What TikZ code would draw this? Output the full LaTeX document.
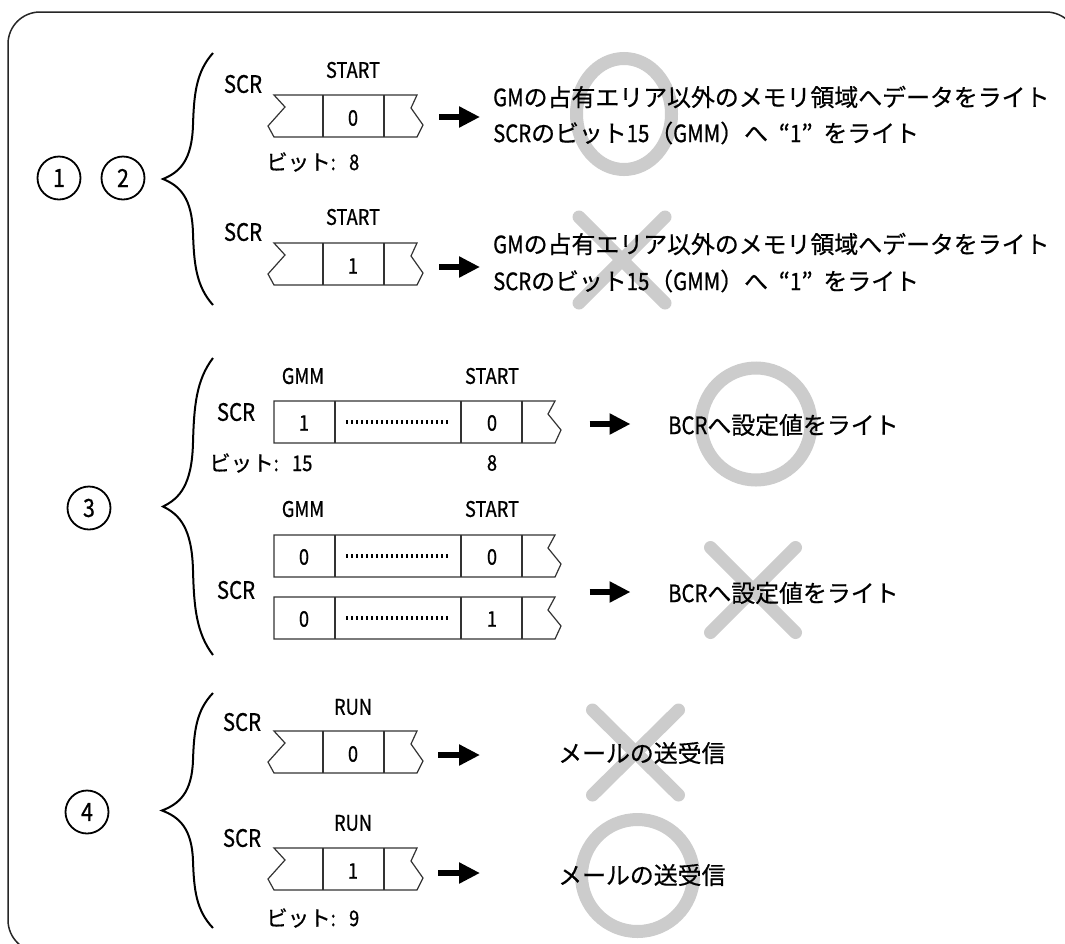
\documentclass[tikz,border=0pt]{standalone}
\usepackage{fontspec}
\setmainfont[FakeBold=0.6]{Noto Sans CJK JP}
\newfontfamily\latn[FakeStretch=0.85,FakeBold=0.8]{Noto Sans CJK JP}
\newcommand{\myL}[1]{{\latn #1}}
\newcommand{\bitsep}{\myL{:}\hspace{0.62em}}
\usetikzlibrary{arrows.meta}
\definecolor{markgray}{RGB}{204,204,204}
\tikzset{
  frame/.style={draw=black!85, line width=1.5pt, rounded corners=32pt},
  reg/.style={draw=black!80, line width=1.2pt},
  brc/.style={draw=black, line width=2pt},
  numcirc/.style={circle, draw=black, line width=1.8pt, minimum size=43pt, inner sep=0pt, font=\fontsize{25}{28}\selectfont\latn},
  txt/.style={anchor=west, inner sep=0pt, font=\fontsize{23.9}{28}\selectfont},
  scr/.style={inner sep=0pt, font=\fontsize{24}{28}\selectfont\latn},
  fld/.style={inner sep=0pt, font=\fontsize{21.5}{25}\selectfont\latn},
  bitlbl/.style={anchor=west, inner sep=0pt, font=\fontsize{21.5}{25}\selectfont},
  bigarrow/.style={line width=6pt, -{Triangle[length=21pt,width=20pt]}},
  okmark/.style={draw=markgray, line width=13pt},
  ngmark/.style={draw=markgray, line width=13pt, line cap=round},
  dots/.style={line width=4pt, dash pattern=on 2pt off 3pt}
}
\newcommand{\shortreg}[1]{%
  \draw[reg] (274,#1) -- (417,#1) -- (411,{#1+13}) -- (423,{#1+30}) -- (417,{#1+42})
    -- (274,{#1+42}) -- (268,{#1+31}) -- (285,{#1+12}) -- cycle;
  \draw[reg] (323,#1) -- (323,{#1+42});
  \draw[reg] (384,#1) -- (384,{#1+42});
}
\newcommand{\longreg}[1]{%
  \draw[reg] (274,#1) -- (555,#1) -- (548,{#1+13}) -- (561,{#1+29}) -- (555,{#1+42})
    -- (274,{#1+42}) -- cycle;
  \draw[reg] (335,#1) -- (335,{#1+42});
  \draw[reg] (461,#1) -- (461,{#1+42});
  \draw[reg] (522,#1) -- (522,{#1+42});
  \draw[dots] (346,{#1+21}) -- (450,{#1+21});
}
\newcommand{\mybrace}[3]{%
  \draw[brc] (213,{#2-#3}) .. controls (196,{#2-0.85*#3}) and (194,{#2-0.67*#3}) .. (193,{#2-0.43*#3})
    .. controls (192,{#2-0.15*#3}) and ({#1+17},{#2-0.055*#3}) .. (#1,#2)
    .. controls ({#1+17},{#2+0.055*#3}) and (192,{#2+0.15*#3}) .. (193,{#2+0.43*#3})
    .. controls (194,{#2+0.67*#3}) and (196,{#2+0.85*#3}) .. (213,{#2+#3});
}
\newcommand{\xmark}[4]{%
  \draw[ngmark] ({#1-#3},{#2-#4}) -- ({#1+#3},{#2+#4});
  \draw[ngmark] ({#1+#3},{#2-#4}) -- ({#1-#3},{#2+#4});
}
\newcommand{\scrline}{\myL{SCR}のビット\myL{15}（\myL{GMM}）へ\hspace{0.45em}“\myL{1}”\hspace{0.45em}をライト}
\begin{document}
\begin{tikzpicture}[x=1pt,y=-1pt]
\useasboundingbox (0,0) rectangle (1065,943);
\clip (0,0) rectangle (1065,943);
\fill[white] (0,0) rectangle (1065,943);
% frame
\draw[frame] (8,12) rectangle (1078,952);

% gray marks (behind text)
\draw[okmark] (624,114) ellipse [x radius=47.5, y radius=55.5];
\xmark{622}{260}{43}{43}
\draw[okmark] (756,424) ellipse [x radius=55, y radius=56];
\xmark{753}{590}{42.5}{42.5}
\xmark{635.5}{752.5}{43}{42.5}
\draw[okmark] (637.5,875.5) ellipse [x radius=56, y radius=56];

% circled numbers
\node[numcirc] (n1) at (59,178) {1};
\node[numcirc] (n2) at (123,178) {2};
\node[numcirc] (n3) at (89,508) {3};
\node[numcirc] (n4) at (87,812) {4};

% braces
\mybrace{163}{179}{126}
\mybrace{163}{506.5}{148.5}
\mybrace{162}{810.5}{117.5}

% ===== group 1/2 =====
\node[scr] (scr1) at (243,84) {SCR};
\node[fld] (st1) at (353,70) {START};
\shortreg{95}
\node[fld] (v1) at (353,118) {0};
\node[bitlbl] (b1) at (266,162) {ビット\bitsep\myL{8}};
\coordinate (a1s) at (439,117); \coordinate (a1e) at (480,117);
\draw[bigarrow] (a1s) -- (a1e);
\node[txt] (t1a) at (493,97) {\myL{GM}の占有エリア以外のメモリ領域へデータをライト};
\node[txt] (t1b) at (493,133) {\scrline};

\node[scr] (scr2) at (243,232) {SCR};
\node[fld] (st2) at (353,217) {START};
\shortreg{243}
\node[fld] (v2) at (353,266) {1};
\coordinate (a2s) at (439,267); \coordinate (a2e) at (480,267);
\draw[bigarrow] (a2s) -- (a2e);
\node[txt] (t2a) at (493,244) {\myL{GM}の占有エリア以外のメモリ領域へデータをライト};
\node[txt] (t2b) at (493,281) {\scrline};

% ===== group 3 =====
\node[scr] (scr3) at (236,412) {SCR};
\node[fld] (g3a) at (303,376) {GMM};
\node[fld] (s3a) at (492,376) {START};
\longreg{401}
\node[fld] (v3a1) at (304,423) {1};
\node[fld] (v3a2) at (492,423) {0};
\node[bitlbl] (b3) at (209,463) {ビット\bitsep\myL{15}};
\node[fld] (b3b) at (492,463) {8};
\coordinate (a3s) at (589.5,424); \coordinate (a3e) at (630.5,424);
\draw[bigarrow] (a3s) -- (a3e);
\node[txt] (t3a) at (668,425) {\myL{BCR}へ設定値をライト};

\node[fld] (g3b) at (303,509) {GMM};
\node[fld] (s3b) at (492,509) {START};
\longreg{535}
\node[fld] (v3b1) at (304,557) {0};
\node[fld] (v3b2) at (492,557) {0};
\longreg{597}
\node[fld] (v3c1) at (304,619) {0};
\node[fld] (v3c2) at (492,619) {1};
\node[scr] (scr3b) at (236,590) {SCR};
\coordinate (a3bs) at (589.5,592); \coordinate (a3be) at (630.5,592);
\draw[bigarrow] (a3bs) -- (a3be);
\node[txt] (t3b) at (668,593) {\myL{BCR}へ設定値をライト};

% ===== group 4 =====
\node[scr] (scr4a) at (242,722) {SCR};
\node[fld] (r4a) at (353,707) {RUN};
\shortreg{731}
\node[fld] (v4a) at (353,754) {0};
\coordinate (a4s) at (438,755); \coordinate (a4e) at (480,755);
\draw[bigarrow] (a4s) -- (a4e);
\node[txt] (t4a) at (558,753) {メールの送受信};

\node[scr] (scr4b) at (242,838) {SCR};
\node[fld] (r4b) at (353,823) {RUN};
\shortreg{848}
\node[fld] (v4b) at (353,871) {1};
\coordinate (a4bs) at (438,873); \coordinate (a4be) at (480,873);
\draw[bigarrow] (a4bs) -- (a4be);
\node[txt] (t4b) at (558,875) {メールの送受信};
\node[bitlbl] (b4) at (266,918) {ビット\bitsep\myL{9}};
\end{tikzpicture}
\end{document}
